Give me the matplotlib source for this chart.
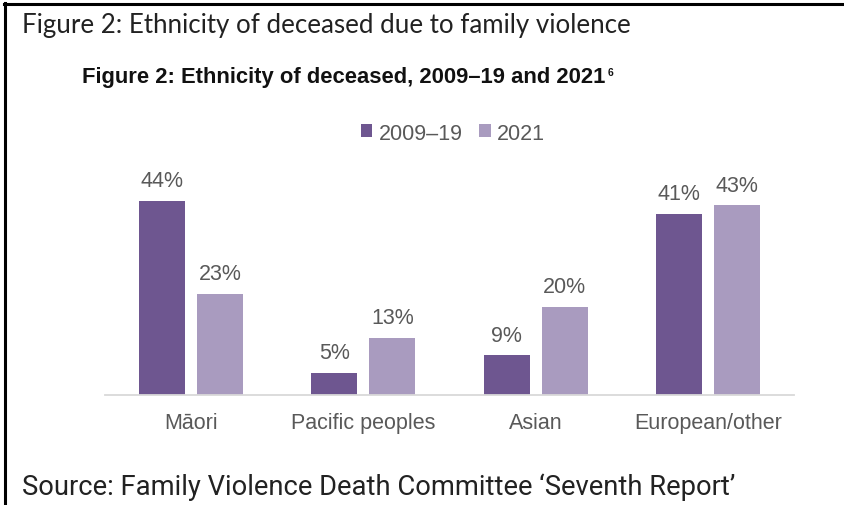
import numpy as np
import matplotlib.pyplot as plt
from matplotlib.lines import Line2D

groups = ["Māori", "Pacific peoples", "Asian", "European/other"]
series_names = ["2009–19", "2021"]
pct_2009_19 = [44, 5, 9, 41]
pct_2021 = [23, 13, 20, 43]

dark_purple = "#6e5690"
light_purple = "#a99bbf"
grey_text = "#595959"

W, H = 845, 506
fig = plt.figure(figsize=(W / 100, H / 100), dpi=100)

# plot area in pixels: baseline at y=396, 4.41 px per percent
left, right, base = 105, 794, 396
ymax = 50
px_per_pct = 4.41
ax = fig.add_axes([left / W, (H - base) / H, (right - left) / W, ymax * px_per_pct / H])

x = np.arange(len(groups))
bw = 0.267
off = 0.168
bars1 = ax.bar(x - off, pct_2009_19, bw, color=dark_purple, label=series_names[0])
bars2 = ax.bar(x + off, pct_2021, bw, color=light_purple, label=series_names[1])

for bars, vals in ((bars1, pct_2009_19), (bars2, pct_2021)):
    for b, v in zip(bars, vals):
        ax.annotate(f"{v}%", (b.get_x() + b.get_width() / 2, v), xytext=(0, 7),
                    textcoords="offset points", ha="center", va="bottom",
                    fontsize=15.5, color=grey_text, family="Liberation Sans")

ax.set_xlim(-0.5, len(groups) - 0.5)
ax.set_ylim(0, ymax)
ax.set_xticks(x)
ax.set_xticklabels(groups, fontsize=15.5, color=grey_text, family="Liberation Sans")
ax.tick_params(axis="x", length=0, pad=12)
ax.set_yticks([])
for s in ("top", "right", "left"):
    ax.spines[s].set_visible(False)
ax.spines["bottom"].set_color("#d9d9d9")
ax.spines["bottom"].set_linewidth(1.3)

leg = ax.legend(loc="center", bbox_to_anchor=(453 / W, 1 - 134 / H), bbox_transform=fig.transFigure,
                ncol=2, frameon=False, handlelength=0.55, handleheight=0.55, handletextpad=0.3,
                columnspacing=0.75, prop={"family": "Liberation Sans", "size": 15.5})
for t in leg.get_texts():
    t.set_color(grey_text)

# chart heading with footnote marker
title = fig.text(82 / W, 1 - 83 / H, "Figure 2: Ethnicity of deceased, 2009–19 and 2021",
                 fontsize=15.8, fontweight="bold", family="Liberation Sans", color="#111111",
                 va="baseline")
fig.canvas.draw()
tb = title.get_window_extent(fig.canvas.get_renderer())
fig.text((tb.x1 + 2) / W, 1 - 76 / H, "6", fontsize=7.5, fontweight="bold",
         family="Liberation Sans", color="#111111", va="baseline")

fig.text(22 / W, 1 - 33 / H, "Figure 2: Ethnicity of deceased due to family violence",
         fontsize=18.6, family="Lato", color="#222222", va="baseline")
fig.text(22 / W, 1 - 495 / H, "Source: Family Violence Death Committee ‘Seventh Report’",
         fontsize=19.7, family="Roboto", color="#222222", va="baseline")

# frame lines along top and left edge
fig.add_artist(Line2D([4 / W, 1], [1 - 5 / H, 1 - 5 / H], color="black", lw=2.2,
                      transform=fig.transFigure))
fig.add_artist(Line2D([5 / W, 5 / W], [1 - 4 / H, 0], color="black", lw=2.2,
                      transform=fig.transFigure))

fig.savefig("out.png", dpi=100, facecolor="white")
